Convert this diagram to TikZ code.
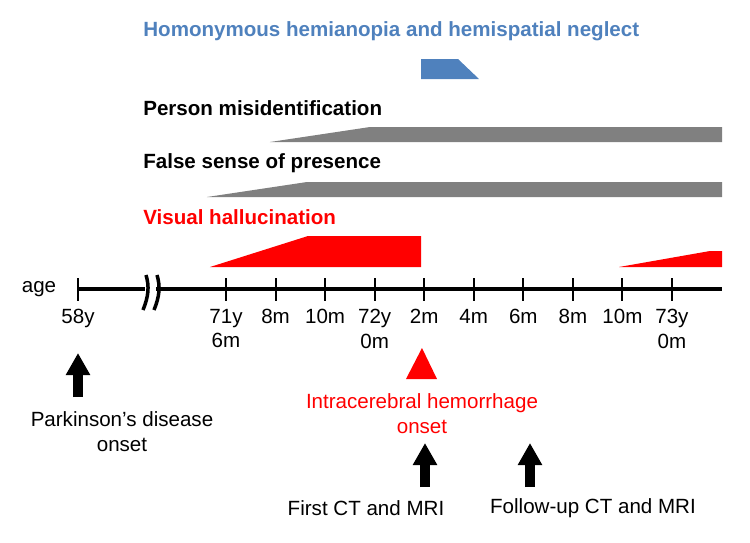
\documentclass[tikz,border=0pt]{standalone}
\usepackage{fontspec}
\setmainfont{Liberation Sans}
\usetikzlibrary{arrows.meta,positioning}
\definecolor{ichred}{RGB}{255,0,0}
\definecolor{hhnblue}{RGB}{79,129,189}
\definecolor{symgray}{RGB}{128,128,128}

\begin{document}
\begin{tikzpicture}[
  every node/.style={font=\fontsize{11.7}{14.2}\selectfont},
  symtitle/.style={font=\fontsize{11.7}{14.2}\selectfont\bfseries, anchor=west, inner sep=0pt},
  ticklab/.style={anchor=north, align=center, inner sep=0pt},
  axisline/.style={line width=0.07cm},
  tickline/.style={line width=0.04cm},
  bigarrow/.style={line width=0.2cm, -{Triangle[length=0.44cm,width=0.46cm]}}
]
\useasboundingbox (-1.56,-5.06) rectangle (13.44,5.78);

% symptoms
\node[symtitle, text=hhnblue] (hhn) at (1.3,5.16) {Homonymous hemianopia and hemispatial neglect};
\fill[hhnblue] (6.86,4.2) -- (6.86,4.6) -- (7.6,4.6) -- (8.02,4.2) -- cycle;

\node[symtitle] (pmi) at (1.3,3.62) {Person misidentification};
\fill[symgray] (3.84,2.94) -- (5.84,3.24) -- (12.88,3.24) -- (12.88,2.94) -- cycle;

\node[symtitle] (fsp) at (1.3,2.52) {False sense of presence};
\fill[symgray] (2.58,1.84) -- (4.58,2.14) -- (12.88,2.14) -- (12.88,1.84) -- cycle;

\node[symtitle, text=ichred] (vh) at (1.3,1.44) {Visual hallucination};
\fill[ichred] (2.64,0.44) -- (4.6,1.06) -- (6.86,1.06) -- (6.86,0.44) -- cycle;
\fill[ichred] (10.82,0.44) -- (12.64,0.76) -- (12.88,0.76) -- (12.88,0.44) -- cycle;

% age axis
\node (age) at (-0.78,0) {age};
\draw[axisline] (0,0) -- (1.34,0);
\draw[axisline] (1.56,0) -- (12.88,0);
\draw[axisline] (1.36,0.28) .. controls (1.43,0.05) and (1.41,-0.15) .. (1.3,-0.42);
\draw[axisline] (1.58,0.28) .. controls (1.65,0.05) and (1.63,-0.15) .. (1.52,-0.42);
\draw[tickline] (0,0.22) -- (0,-0.24);
\node[ticklab] (t58) at (0,-0.39) {58y};
\foreach \i/\lab in {0/{71y\\6m},1/8m,2/10m,3/{72y\\0m},4/2m,5/4m,6/6m,7/8m,8/10m,9/{73y\\0m}} {
  \draw[tickline] ({2.96+0.991*\i},0.22) -- ++(0,-0.46);
  \node[ticklab] (t\i) at ({2.96+0.991*\i},-0.39) {\lab};
}

% events
\fill[ichred] (6.88,-1.18) -- (6.56,-1.8) -- (7.18,-1.8) -- cycle;
\node[text=ichred, align=center] (ich) at (6.88,-2.5) {Intracerebral hemorrhage\\onset};

\coordinate (pdfoot) at (0,-2.16);
\coordinate (pdtip) at (0,-1.28);
\draw[bigarrow] (pdfoot) -- (pdtip);
\node[align=center] (pd) at (0.88,-2.85) {Parkinson’s disease\\onset};

\coordinate (ctfoot) at (6.94,-3.96);
\coordinate (cttip) at (6.94,-3.08);
\draw[bigarrow] (ctfoot) -- (cttip);
\node (ct) at (5.76,-4.38) {First CT and MRI};

\coordinate (fufoot) at (9.04,-3.96);
\coordinate (futip) at (9.04,-3.08);
\draw[bigarrow] (fufoot) -- (futip);
\node (fu) at (10.3,-4.38) {Follow-up CT and MRI};
\end{tikzpicture}
\end{document}
